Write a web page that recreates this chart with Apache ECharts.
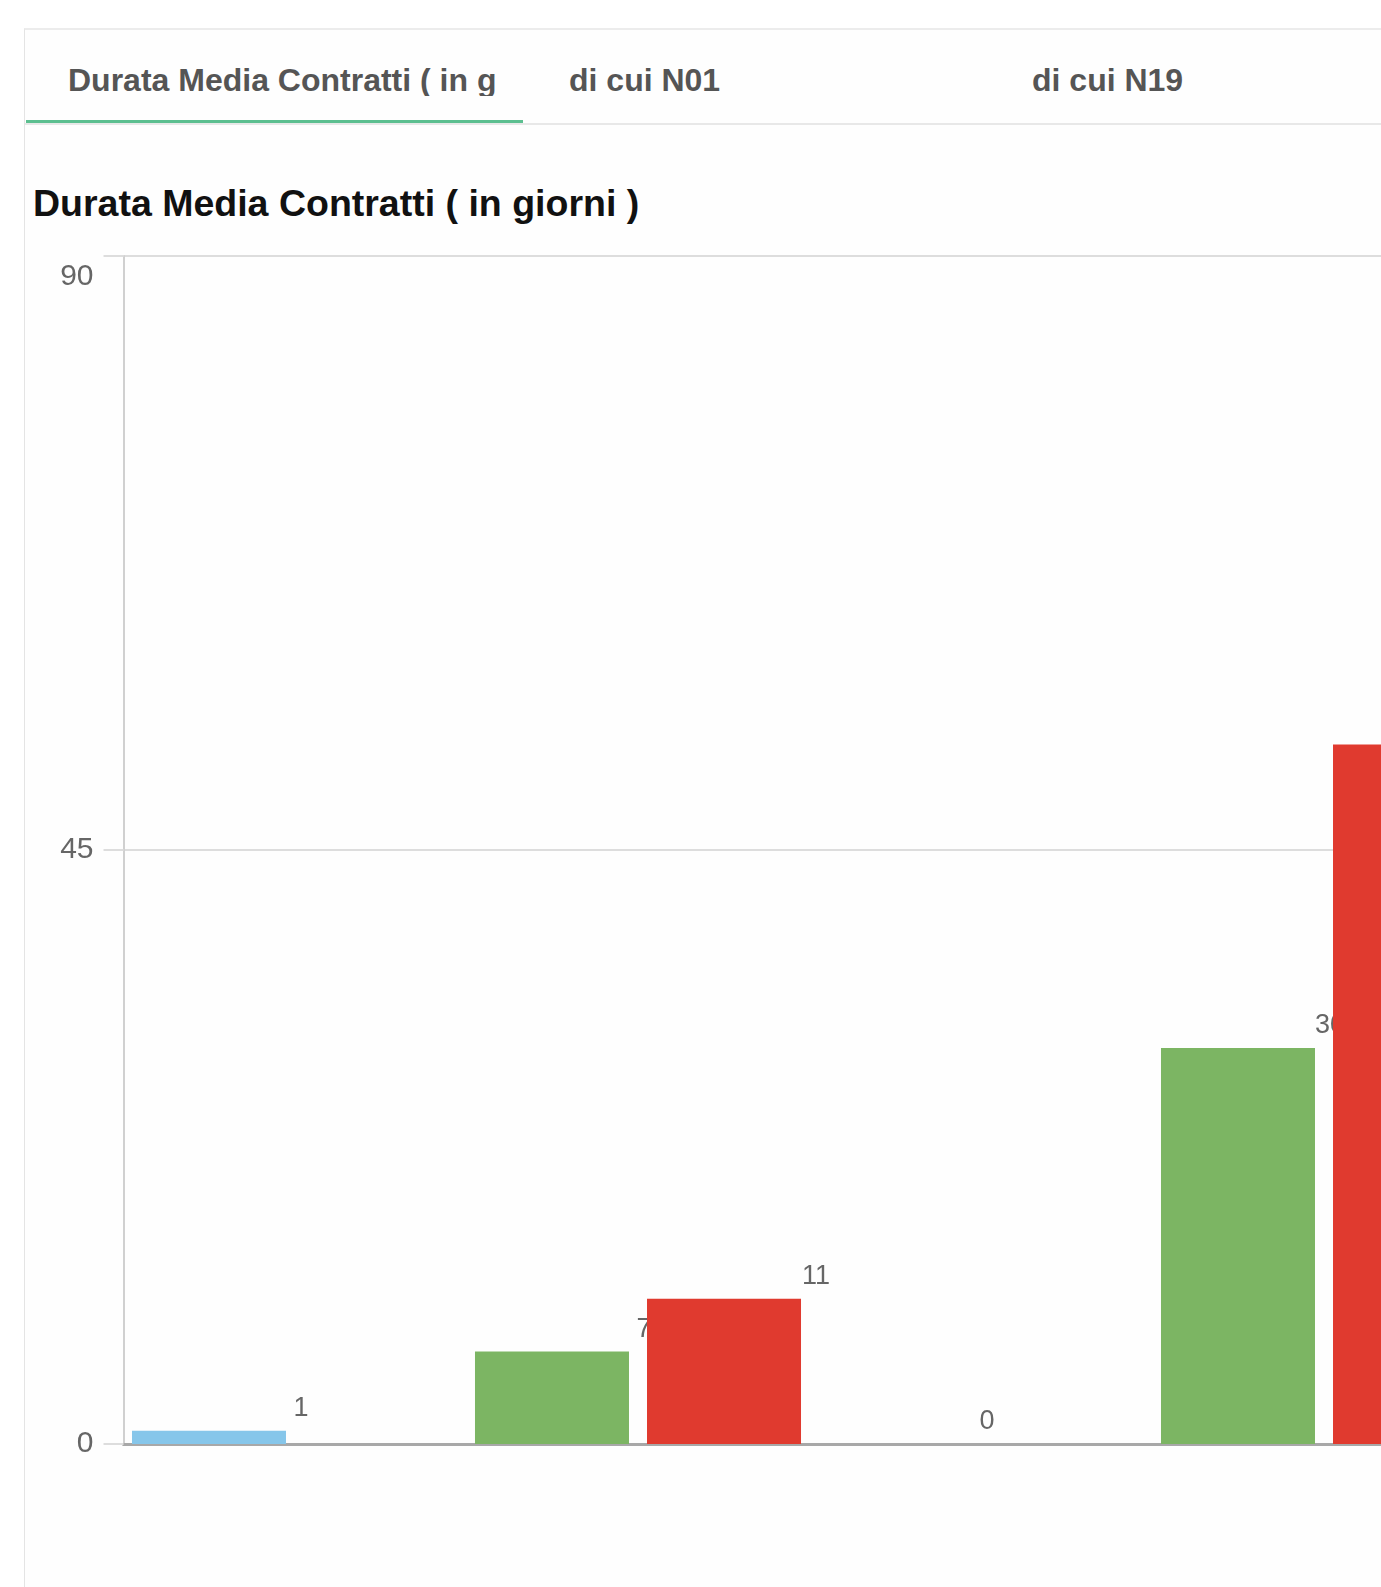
<!DOCTYPE html>
<html>
<head>
<meta charset="utf-8">
<script src="https://cdn.jsdelivr.net/npm/echarts@6/dist/echarts.min.js"></script>
<style>
  html, body { margin: 0; padding: 0; width: 1381px; height: 1587px; overflow: hidden; background: #ffffff; }
  body { position: relative; font-family: "Liberation Sans", Arial, sans-serif; }
  #card { position: absolute; left: 24px; top: 28px; width: 1700px; height: 1700px;
          border-left: 1px solid #e4e4e4; border-top: 2px solid #ececec; background: #fefefe; }
  #tabline { position: absolute; left: 25px; top: 123px; width: 1700px; height: 2px; background: #e8e8e8; }
  #active { position: absolute; left: 26px; top: 120px; width: 497px; height: 3px; background: #5cbf90; }
  .tab { position: absolute; top: 64px; font-size: 32px; line-height: 32px; font-weight: bold; color: #555;
         white-space: nowrap; overflow: hidden; }
  #title { position: absolute; left: 33px; top: 185px; font-size: 37.5px; line-height: 37.5px; font-weight: bold; color: #111; white-space: nowrap; }
  #chart { position: absolute; left: 0; top: 0; width: 1520px; height: 1587px; }
</style>
</head>
<body>
<div id="card"></div>
<div id="tabline"></div>
<div id="active"></div>
<div class="tab" style="left:68px; width:427px;">Durata Media Contratti ( in giorni )</div>
<div class="tab" style="left:569px;">di cui N01</div>
<div class="tab" style="left:1032px;">di cui N19</div>
<div id="title">Durata Media Contratti ( in giorni )</div>
<div id="chart"></div>
<script>
// ---- data ----
const categories = ['Gruppo 1', 'Gruppo 2', 'Gruppo 3', 'Gruppo 4'];
const seriesA = [1, 7, 0, 30];
const seriesB = [null, 11, null, 53];
const yTicks = [0, 45, 90];

// ---- styles (kept separate from data) ----
const coloursA = ['#86c6ea', '#7cb563', '#86c6ea', '#7cb563'];
const colourB = '#e03a2f';

const chart = echarts.init(document.getElementById('chart'), null, { renderer: 'canvas' });

const labelCfg = {
  show: true,
  position: ['100%', 0],
  offset: [15, -22],
  align: 'center',
  verticalAlign: 'middle',
  fontFamily: 'Liberation Sans, Arial, sans-serif',
  fontSize: 27,
  color: '#666'
};

chart.setOption({
  animation: false,
  backgroundColor: 'transparent',
  grid: { left: 123.5, top: 256, width: 1372, height: 1188, containLabel: false },
  xAxis: {
    type: 'category',
    data: categories,
    axisLine: { show: true, onZero: true, lineStyle: { color: '#a8a8a8', width: 3 } },
    axisTick: { show: false },
    axisLabel: { show: false },
    splitLine: { show: false }
  },
  yAxis: {
    type: 'value',
    min: yTicks[0],
    max: yTicks[yTicks.length - 1],
    interval: yTicks[1] - yTicks[0],
    axisLine: { show: true, lineStyle: { color: '#d0d0d0', width: 2 } },
    axisTick: { show: true, length: 20, lineStyle: { color: '#dddddd', width: 2 } },
    splitLine: { show: true, lineStyle: { color: '#dddddd', width: 2 } },
    axisLabel: {
      margin: 30,
      padding: [6, 0, 0, 0],
      fontFamily: 'Liberation Sans, Arial, sans-serif',
      fontSize: 30,
      color: '#666',
      verticalAlignMaxLabel: 'top'
    }
  },
  series: [
    {
      name: 'A',
      type: 'bar',
      data: seriesA,
      barWidth: 154,
      barGap: '11.7%',
      z: 2,
      itemStyle: { color: (p) => coloursA[p.dataIndex] },
      label: labelCfg
    },
    {
      name: 'B',
      type: 'bar',
      data: seriesB,
      barWidth: 154,
      barGap: '11.7%',
      z: 3,
      itemStyle: { color: colourB },
      label: labelCfg
    }
  ]
});
</script>
</body>
</html>
